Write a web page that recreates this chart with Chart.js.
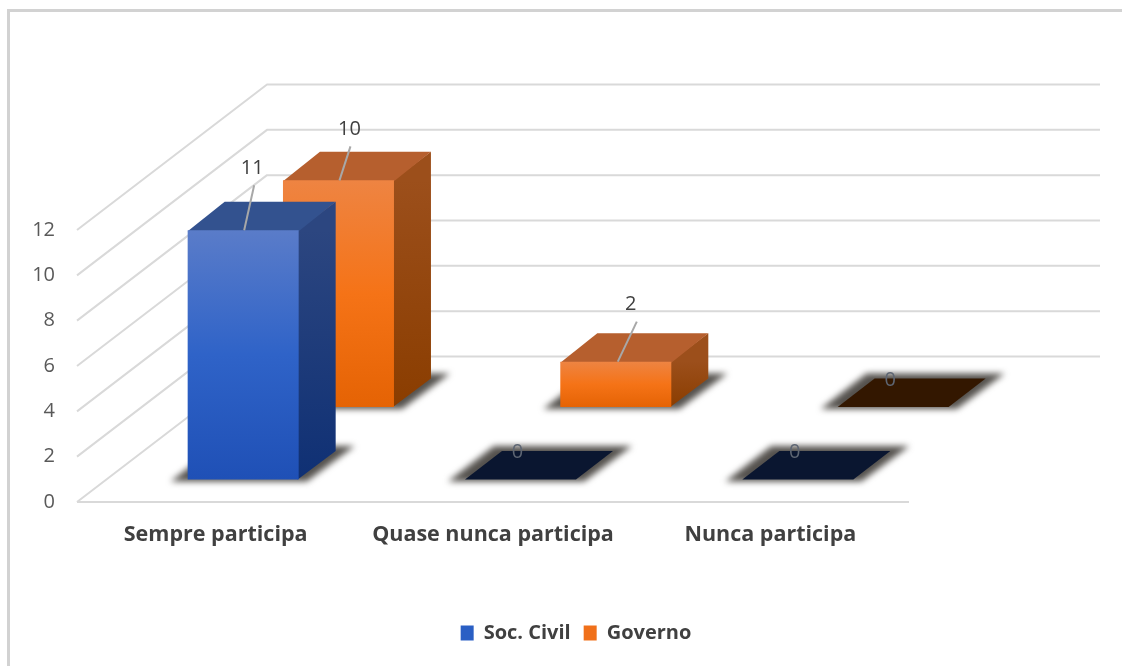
<!DOCTYPE html>
<html lang="pt">
<head>
<meta charset="utf-8">
<title>Participação</title>
<script src="https://cdn.jsdelivr.net/npm/chart.js@4"></script>
<style>
  html, body { margin: 0; padding: 0; background: #fff; }
  #wrap { position: relative; width: 1122px; height: 666px; overflow: hidden; }
  #frame { position: absolute; left: 7px; top: 9px; right: -10px; bottom: -10px; border: 3px solid #d2d2d2; }
  #chart { position: absolute; left: 0; top: 0; }
</style>
</head>
<body>
<div id="wrap">
  <div id="frame"></div>
  <canvas id="chart" width="1122" height="666"></canvas>
</div>
<script>
const categories = ['Sempre participa', 'Quase nunca participa', 'Nunca participa'];
const seriesNames = ['Soc. Civil', 'Governo'];
const civilValues = [11, 0, 0];
const governoValues = [10, 2, 0];
const yTicks = [0, 2, 4, 6, 8, 10, 12];

// how the flat chart is turned into the fake 3D view
const wallDepth = { x: 190, y: -145.5 };
const wallRight = 1100;
const barDepth = { x: 37, y: -28.5 };
const seriesShift = [{ x: 27.5, y: -22.5 }, { x: 122.8, y: -95 }];

const barLooks = [
  {
    front: ['#5a7cc9', '#2f63c8', '#1f50b6'],
    side: ['#2c4680', '#0f3074'],
    top: '#33528f',
    flat: '#0a1630'
  },
  {
    front: ['#ee8442', '#f57317', '#e56304'],
    side: ['#9c4f1b', '#8a3d00'],
    top: '#b65f2e',
    flat: '#331700'
  }
];

// label position relative to the middle of the bar's front top edge
const leaderLabels = {
  '0-0': { dx: 9, dy: -62, from: 1, lean: 10 },
  '1-0': { dx: 11, dy: -51, from: 1, lean: 11 },
  '1-1': { dx: 15, dy: -57, from: 2, lean: 19 }
};

function polygon(ctx, pts, fill) {
  ctx.beginPath();
  pts.forEach(([x, y], i) => (i ? ctx.lineTo(x, y) : ctx.moveTo(x, y)));
  ctx.closePath();
  ctx.fillStyle = fill;
  ctx.fill();
}

function vGradient(ctx, top, bottom, stops) {
  const g = ctx.createLinearGradient(0, top, 0, Math.max(bottom, top + 1));
  stops.forEach((c, i) => g.addColorStop(i / (stops.length - 1), c));
  return g;
}

function barBox(el, ds) {
  const shift = seriesShift[ds];
  return {
    left: el.x - el.width / 2 + shift.x,
    right: el.x + el.width / 2 + shift.x,
    top: el.y + shift.y,
    bottom: el.base + shift.y
  };
}

function drawWalls(chart) {
  const { ctx, scales } = chart;
  const left = chart.chartArea.left;
  ctx.save();
  ctx.strokeStyle = '#d9d9d9';
  ctx.lineWidth = 2;
  ctx.lineJoin = 'round';
  yTicks.forEach((v) => {
    const y = scales.y.getPixelForValue(v);
    ctx.beginPath();
    ctx.moveTo(left, y);
    ctx.lineTo(left + wallDepth.x, y + wallDepth.y);
    ctx.lineTo(wallRight, y + wallDepth.y);
    ctx.stroke();
  });
  const y0 = scales.y.getPixelForValue(0);
  ctx.beginPath();
  ctx.moveTo(left, y0);
  ctx.lineTo(chart.chartArea.right, y0);
  ctx.stroke();
  ctx.restore();
}

function drawShadow(ctx, box) {
  const bx = box.left, ex = box.right, by = box.bottom, d = barDepth;
  ctx.save();
  ctx.filter = 'blur(3px)';
  polygon(ctx, [
    [bx - 17, by + 2],
    [ex + 8, by + 2],
    [ex + d.x + 19, by + d.y - 5],
    [bx + d.x - 8, by + d.y - 5]
  ], '#55524e');
  ctx.restore();
}

function drawBar(ctx, box, look, value) {
  const d = barDepth;
  drawShadow(ctx, box);
  if (value === 0) {
    polygon(ctx, [
      [box.left, box.bottom],
      [box.right, box.bottom],
      [box.right + d.x, box.bottom + d.y],
      [box.left + d.x, box.bottom + d.y]
    ], look.flat);
    return;
  }
  polygon(ctx, [
    [box.right - 1, box.top],
    [box.right + d.x, box.top + d.y],
    [box.right + d.x, box.bottom + d.y],
    [box.right - 1, box.bottom]
  ], vGradient(ctx, box.top, box.bottom, look.side));
  polygon(ctx, [
    [box.left, box.top + 1],
    [box.right, box.top + 1],
    [box.right + d.x, box.top + d.y],
    [box.left + d.x, box.top + d.y]
  ], look.top);
  polygon(ctx, [
    [box.left, box.top],
    [box.right, box.top],
    [box.right, box.bottom],
    [box.left, box.bottom]
  ], vGradient(ctx, box.top, box.bottom, look.front));
}

function drawLabel(ctx, box, value, key) {
  const mid = (box.left + box.right) / 2;
  ctx.save();
  ctx.textAlign = 'center';
  ctx.textBaseline = 'middle';
  ctx.font = '20px "Open Sans"';
  if (value === 0) {
    ctx.fillStyle = '#5e6673';
    ctx.fillText(String(value), mid - 3, box.top - 27);
    ctx.restore();
    return;
  }
  const place = leaderLabels[key];
  ctx.fillStyle = '#404040';
  ctx.fillText(String(value), mid + place.dx, box.top + place.dy);
  ctx.strokeStyle = '#a8a8a8';
  ctx.lineWidth = 2;
  ctx.beginPath();
  ctx.moveTo(mid + place.from, box.top);
  ctx.lineTo(mid + place.from + place.lean, box.top + place.dy + 17);
  ctx.stroke();
  ctx.restore();
}

const fake3d = {
  id: 'fake3d',
  afterLayout(chart) {
    // legend sits a bit right of the page centre
    chart.legend.left = 30;
    chart.legend.right = 1122;
  },
  beforeDatasetsDraw(chart) {
    const { ctx } = chart;
    drawWalls(chart);
    const metas = [1, 0].map((ds) => ({ ds, meta: chart.getDatasetMeta(ds) }));
    metas.forEach(({ ds, meta }) => {
      meta.data.forEach((el, i) => {
        drawBar(ctx, barBox(el, ds), barLooks[ds], chart.data.datasets[ds].data[i]);
      });
    });
    metas.forEach(({ ds, meta }) => {
      meta.data.forEach((el, i) => {
        drawLabel(ctx, barBox(el, ds), chart.data.datasets[ds].data[i], ds + '-' + i);
      });
    });
  },
  beforeDatasetDraw() {
    return false;
  }
};

new Chart(document.getElementById('chart'), {
  type: 'bar',
  plugins: [fake3d],
  data: {
    labels: categories,
    datasets: [
      { label: seriesNames[0], data: civilValues, backgroundColor: '#2a5fc4', barThickness: 111, grouped: false },
      { label: seriesNames[1], data: governoValues, backgroundColor: '#f0701a', barThickness: 111, grouped: false }
    ]
  },
  options: {
    responsive: false,
    animation: false,
    layout: { padding: { top: 230, right: 213, bottom: 13, left: 0 } },
    plugins: {
      tooltip: { enabled: false },
      legend: {
        position: 'bottom',
        labels: {
          color: '#404040',
          boxWidth: 13,
          boxHeight: 15,
          padding: 13,
          font: { family: 'Open Sans', size: 20, weight: '700' }
        }
      }
    },
    scales: {
      x: {
        grid: { display: false, drawTicks: false },
        border: { display: false },
        afterFit: (scale) => { scale.height = 108; },
        ticks: {
          color: '#404040',
          padding: 20,
          autoSkip: false,
          maxRotation: 0,
          font: { family: 'Open Sans', size: 21.5, weight: '700' }
        }
      },
      y: {
        min: 0,
        max: 12,
        grid: { display: false, drawTicks: false },
        border: { display: false },
        afterFit: (scale) => { scale.width = 77; },
        ticks: {
          stepSize: 2,
          color: '#595959',
          padding: 22,
          font: { family: 'Open Sans', size: 20 }
        }
      }
    }
  }
});
</script>
</body>
</html>
